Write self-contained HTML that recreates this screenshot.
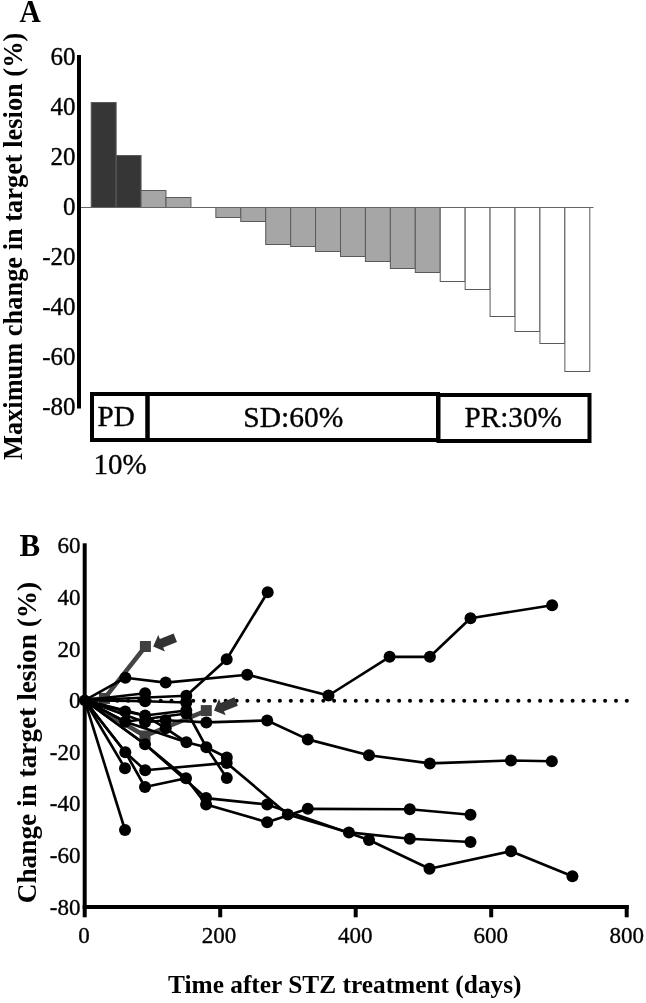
<!DOCTYPE html>
<html><head><meta charset="utf-8"><title>Tumor response</title>
<style>html,body{margin:0;padding:0;background:#fff;}svg{display:block;will-change:transform;} .r{stroke:#000;stroke-width:0.35px;}</style>
</head><body>
<svg width="646" height="1003" viewBox="0 0 646 1003" font-family='"Liberation Serif", serif'><rect x="91.20" y="102.5" width="24.93" height="105.0" fill="#363636" stroke="#5a5a5a" stroke-width="1"/>
<rect x="116.13" y="155.5" width="24.93" height="52.0" fill="#363636" stroke="#5a5a5a" stroke-width="1"/>
<rect x="141.06" y="190.5" width="24.93" height="17.0" fill="#a6a6a6" stroke="#5a5a5a" stroke-width="1"/>
<rect x="165.99" y="197.5" width="24.93" height="10.0" fill="#a6a6a6" stroke="#5a5a5a" stroke-width="1"/>
<rect x="215.85" y="207.5" width="24.93" height="10.0" fill="#a6a6a6" stroke="#5a5a5a" stroke-width="1"/>
<rect x="240.78" y="207.5" width="24.93" height="14.0" fill="#a6a6a6" stroke="#5a5a5a" stroke-width="1"/>
<rect x="265.71" y="207.5" width="24.93" height="37.0" fill="#a6a6a6" stroke="#5a5a5a" stroke-width="1"/>
<rect x="290.64" y="207.5" width="24.93" height="39.0" fill="#a6a6a6" stroke="#5a5a5a" stroke-width="1"/>
<rect x="315.57" y="207.5" width="24.93" height="44.0" fill="#a6a6a6" stroke="#5a5a5a" stroke-width="1"/>
<rect x="340.50" y="207.5" width="24.93" height="49.0" fill="#a6a6a6" stroke="#5a5a5a" stroke-width="1"/>
<rect x="365.43" y="207.5" width="24.93" height="54.0" fill="#a6a6a6" stroke="#5a5a5a" stroke-width="1"/>
<rect x="390.36" y="207.5" width="24.93" height="61.0" fill="#a6a6a6" stroke="#5a5a5a" stroke-width="1"/>
<rect x="415.29" y="207.5" width="24.93" height="65.0" fill="#a6a6a6" stroke="#5a5a5a" stroke-width="1"/>
<rect x="440.22" y="207.5" width="24.93" height="74.0" fill="#ffffff" stroke="#5a5a5a" stroke-width="1"/>
<rect x="465.15" y="207.5" width="24.93" height="82.0" fill="#ffffff" stroke="#5a5a5a" stroke-width="1"/>
<rect x="490.08" y="207.5" width="24.93" height="109.0" fill="#ffffff" stroke="#5a5a5a" stroke-width="1"/>
<rect x="515.01" y="207.5" width="24.93" height="124.0" fill="#ffffff" stroke="#5a5a5a" stroke-width="1"/>
<rect x="539.94" y="207.5" width="24.93" height="136.0" fill="#ffffff" stroke="#5a5a5a" stroke-width="1"/>
<rect x="564.87" y="207.5" width="24.93" height="164.0" fill="#ffffff" stroke="#5a5a5a" stroke-width="1"/>
<line x1="81" y1="207.5" x2="593.5" y2="207.5" stroke="#666" stroke-width="1"/>
<rect x="77" y="55" width="4" height="353.5" fill="#000"/>
<text class="r" x="75.5" y="65.0" text-anchor="end" font-size="25">60</text>
<text class="r" x="75.5" y="115.0" text-anchor="end" font-size="25">40</text>
<text class="r" x="75.5" y="165.0" text-anchor="end" font-size="25">20</text>
<text class="r" x="75.5" y="215.0" text-anchor="end" font-size="25">0</text>
<text class="r" x="75.5" y="265.0" text-anchor="end" font-size="25">-20</text>
<text class="r" x="75.5" y="315.0" text-anchor="end" font-size="25">-40</text>
<text class="r" x="75.5" y="365.0" text-anchor="end" font-size="25">-60</text>
<text class="r" x="75.5" y="415.0" text-anchor="end" font-size="25">-80</text>
<rect x="92" y="394" width="55.5" height="46" fill="none" stroke="#000" stroke-width="4"/>
<rect x="147.5" y="394" width="290.5" height="46" fill="none" stroke="#000" stroke-width="4"/>
<rect x="438.5" y="395" width="151" height="46" fill="none" stroke="#000" stroke-width="4"/>
<text class="r" x="97.5" y="425.9" font-size="29.2">PD</text>
<text class="r" x="243.3" y="426.8" font-size="29.5">SD:60%</text>
<text class="r" x="464.5" y="427" font-size="29.2">PR:30%</text>
<text class="r" x="93.5" y="474.1" font-size="29">10%</text>
<text x="19.6" y="22.3" font-size="32" font-weight="bold" textLength="21.3" lengthAdjust="spacingAndGlyphs">A</text>
<text transform="translate(22,460) rotate(-90)" x="0" y="0" font-size="26.4" font-weight="bold">Maximum change in target lesion (%)</text>
<rect x="82.7" y="543.3" width="4" height="374" fill="#000"/>
<rect x="82.7" y="905" width="546" height="4" fill="#000"/>
<rect x="218.2" y="905" width="4" height="12.3" fill="#000"/>
<rect x="353.7" y="905" width="4" height="12.3" fill="#000"/>
<rect x="489.2" y="905" width="4" height="12.3" fill="#000"/>
<rect x="624.7" y="905" width="4" height="12.3" fill="#000"/>
<text class="r" x="80.5" y="553.4" text-anchor="end" font-size="23">60</text>
<text class="r" x="80.5" y="605.0" text-anchor="end" font-size="23">40</text>
<text class="r" x="80.5" y="656.6" text-anchor="end" font-size="23">20</text>
<text class="r" x="80.5" y="708.2" text-anchor="end" font-size="23">0</text>
<text class="r" x="80.5" y="759.8" text-anchor="end" font-size="23">-20</text>
<text class="r" x="80.5" y="811.4" text-anchor="end" font-size="23">-40</text>
<text class="r" x="80.5" y="863.0" text-anchor="end" font-size="23">-60</text>
<text class="r" x="80.5" y="914.6" text-anchor="end" font-size="23">-80</text>
<text class="r" x="83.9" y="942.6" text-anchor="middle" font-size="23">0</text>
<text class="r" x="218.9" y="942.6" text-anchor="middle" font-size="23">200</text>
<text class="r" x="355.2" y="942.6" text-anchor="middle" font-size="23">400</text>
<text class="r" x="490.7" y="942.6" text-anchor="middle" font-size="23">600</text>
<text class="r" x="626.7" y="942.6" text-anchor="middle" font-size="23">800</text>
<text x="19.5" y="555.9" font-size="31" font-weight="bold">B</text>
<text transform="translate(36.3,903.3) rotate(-90)" font-size="27.3" font-weight="bold">Change in target lesion (%)</text>
<text x="168" y="992.9" font-size="25.37" font-weight="bold">Time after STZ treatment (days)</text>
<g fill="#000"><circle cx="84.8" cy="700.8" r="2"/><circle cx="95.6" cy="700.8" r="2"/><circle cx="106.5" cy="700.8" r="2"/><circle cx="117.3" cy="700.8" r="2"/><circle cx="128.2" cy="700.8" r="2"/><circle cx="139.0" cy="700.8" r="2"/><circle cx="149.8" cy="700.8" r="2"/><circle cx="160.7" cy="700.8" r="2"/><circle cx="171.5" cy="700.8" r="2"/><circle cx="182.4" cy="700.8" r="2"/><circle cx="193.2" cy="700.8" r="2"/><circle cx="204.0" cy="700.8" r="2"/><circle cx="214.9" cy="700.8" r="2"/><circle cx="225.7" cy="700.8" r="2"/><circle cx="236.6" cy="700.8" r="2"/><circle cx="247.4" cy="700.8" r="2"/><circle cx="258.2" cy="700.8" r="2"/><circle cx="269.1" cy="700.8" r="2"/><circle cx="279.9" cy="700.8" r="2"/><circle cx="290.8" cy="700.8" r="2"/><circle cx="301.6" cy="700.8" r="2"/><circle cx="312.4" cy="700.8" r="2"/><circle cx="323.3" cy="700.8" r="2"/><circle cx="334.1" cy="700.8" r="2"/><circle cx="345.0" cy="700.8" r="2"/><circle cx="355.8" cy="700.8" r="2"/><circle cx="366.6" cy="700.8" r="2"/><circle cx="377.5" cy="700.8" r="2"/><circle cx="388.3" cy="700.8" r="2"/><circle cx="399.2" cy="700.8" r="2"/><circle cx="410.0" cy="700.8" r="2"/><circle cx="420.8" cy="700.8" r="2"/><circle cx="431.7" cy="700.8" r="2"/><circle cx="442.5" cy="700.8" r="2"/><circle cx="453.4" cy="700.8" r="2"/><circle cx="464.2" cy="700.8" r="2"/><circle cx="475.0" cy="700.8" r="2"/><circle cx="485.9" cy="700.8" r="2"/><circle cx="496.7" cy="700.8" r="2"/><circle cx="507.6" cy="700.8" r="2"/><circle cx="518.4" cy="700.8" r="2"/><circle cx="529.2" cy="700.8" r="2"/><circle cx="540.1" cy="700.8" r="2"/><circle cx="550.9" cy="700.8" r="2"/><circle cx="561.8" cy="700.8" r="2"/><circle cx="572.6" cy="700.8" r="2"/><circle cx="583.4" cy="700.8" r="2"/><circle cx="594.3" cy="700.8" r="2"/><circle cx="605.1" cy="700.8" r="2"/><circle cx="616.0" cy="700.8" r="2"/><circle cx="626.8" cy="700.8" r="2"/></g>
<polyline points="84.7,700.3 104.5,698.4 145.4,646.5" fill="none" stroke="#444" stroke-width="4.5" stroke-linejoin="round"/>
<polyline points="84.7,700.3 145.0,736.0 206.3,710.6" fill="none" stroke="#444" stroke-width="4.5" stroke-linejoin="round"/>
<rect x="99.0" y="692.9" width="11" height="11" fill="#404040"/>
<rect x="139.9" y="641.0" width="11" height="11" fill="#404040"/>
<rect x="139.5" y="730.5" width="11" height="11" fill="#404040"/>
<rect x="200.8" y="705.1" width="11" height="11" fill="#404040"/>
<polyline points="84.7,700.3 125.4,677.7 165.7,682.6 247.2,674.7 328.5,695.5 389.6,656.8 429.9,656.8 470.5,618.2 552.1,605.2" fill="none" stroke="#000" stroke-width="2.65" stroke-linejoin="round"/>
<polyline points="84.7,700.3 186.3,695.8 226.7,659.2 267.7,592.2" fill="none" stroke="#000" stroke-width="2.65" stroke-linejoin="round"/>
<polyline points="84.7,700.3 145.1,693.2" fill="none" stroke="#000" stroke-width="2.65" stroke-linejoin="round"/>
<polyline points="84.7,700.3 145.1,722.3 165.7,720.2 206.3,722.4 267.2,720.5 307.8,739.4 369.0,755.2 429.8,763.4 511.0,760.5 551.8,761.3" fill="none" stroke="#000" stroke-width="2.65" stroke-linejoin="round"/>
<polyline points="84.7,700.3 145.1,701.2 186.3,702.5" fill="none" stroke="#000" stroke-width="2.65" stroke-linejoin="round"/>
<polyline points="84.7,700.3 125.2,711.4 145.1,715.5 186.3,710.5 206.3,747.2 226.8,778.1" fill="none" stroke="#000" stroke-width="2.65" stroke-linejoin="round"/>
<polyline points="84.7,700.3 125.2,721.7 186.4,742.2 206.3,747.2 226.8,757.5" fill="none" stroke="#000" stroke-width="2.65" stroke-linejoin="round"/>
<polyline points="84.7,700.3 125.2,721.7 186.3,713.5" fill="none" stroke="#000" stroke-width="2.65" stroke-linejoin="round"/>
<polyline points="84.7,700.3 145.1,715.5 165.7,728.3 186.4,742.2" fill="none" stroke="#000" stroke-width="2.65" stroke-linejoin="round"/>
<polyline points="84.7,700.3 125.3,752.2 145.2,770.3 226.7,762.9 287.8,814.4 348.9,832.4 409.8,838.7 470.5,842.0" fill="none" stroke="#000" stroke-width="2.65" stroke-linejoin="round"/>
<polyline points="84.7,700.3 125.3,752.2 145.0,787.0 186.0,778.3" fill="none" stroke="#000" stroke-width="2.65" stroke-linejoin="round"/>
<polyline points="84.7,700.3 125.0,768.2" fill="none" stroke="#000" stroke-width="2.65" stroke-linejoin="round"/>
<polyline points="84.7,700.3 125.0,830.0" fill="none" stroke="#000" stroke-width="2.65" stroke-linejoin="round"/>
<polyline points="84.7,700.3 145.0,744.2 206.1,798.1 267.2,804.5 369.0,840.0 429.5,868.7 511.0,851.2 572.4,876.3" fill="none" stroke="#000" stroke-width="2.65" stroke-linejoin="round"/>
<polyline points="84.7,700.3 145.0,744.2 186.0,778.3 206.1,804.5 267.2,822.2 307.8,808.8 409.8,809.2 470.5,814.8" fill="none" stroke="#000" stroke-width="2.65" stroke-linejoin="round"/>
<g fill="#000"><circle cx="125.0" cy="768.2" r="6.0"/><circle cx="125.0" cy="830.0" r="6.0"/><circle cx="125.2" cy="711.4" r="6.0"/><circle cx="125.2" cy="721.7" r="6.0"/><circle cx="125.3" cy="752.2" r="6.0"/><circle cx="125.4" cy="677.7" r="6.0"/><circle cx="145.0" cy="744.2" r="6.0"/><circle cx="145.0" cy="787.0" r="6.0"/><circle cx="145.1" cy="693.2" r="6.0"/><circle cx="145.1" cy="701.2" r="6.0"/><circle cx="145.1" cy="715.5" r="6.0"/><circle cx="145.1" cy="722.3" r="6.0"/><circle cx="145.2" cy="770.3" r="6.0"/><circle cx="165.7" cy="682.6" r="6.0"/><circle cx="165.7" cy="720.2" r="6.0"/><circle cx="165.7" cy="728.3" r="6.0"/><circle cx="186.0" cy="778.3" r="6.0"/><circle cx="186.3" cy="695.8" r="6.0"/><circle cx="186.3" cy="702.5" r="6.0"/><circle cx="186.3" cy="710.5" r="6.0"/><circle cx="186.3" cy="713.5" r="6.0"/><circle cx="186.4" cy="742.2" r="6.0"/><circle cx="206.1" cy="798.1" r="6.0"/><circle cx="206.1" cy="804.5" r="6.0"/><circle cx="206.3" cy="722.4" r="6.0"/><circle cx="206.3" cy="747.2" r="6.0"/><circle cx="226.7" cy="659.2" r="6.0"/><circle cx="226.7" cy="762.9" r="6.0"/><circle cx="226.8" cy="757.5" r="6.0"/><circle cx="226.8" cy="778.1" r="6.0"/><circle cx="247.2" cy="674.7" r="6.0"/><circle cx="267.2" cy="720.5" r="6.0"/><circle cx="267.2" cy="804.5" r="6.0"/><circle cx="267.2" cy="822.2" r="6.0"/><circle cx="267.7" cy="592.2" r="6.0"/><circle cx="287.8" cy="814.4" r="6.0"/><circle cx="307.8" cy="739.4" r="6.0"/><circle cx="307.8" cy="808.8" r="6.0"/><circle cx="328.5" cy="695.5" r="6.0"/><circle cx="348.9" cy="832.4" r="6.0"/><circle cx="369.0" cy="755.2" r="6.0"/><circle cx="369.0" cy="840.0" r="6.0"/><circle cx="389.6" cy="656.8" r="6.0"/><circle cx="409.8" cy="809.2" r="6.0"/><circle cx="409.8" cy="838.7" r="6.0"/><circle cx="429.5" cy="868.7" r="6.0"/><circle cx="429.8" cy="763.4" r="6.0"/><circle cx="429.9" cy="656.8" r="6.0"/><circle cx="470.5" cy="618.2" r="6.0"/><circle cx="470.5" cy="814.8" r="6.0"/><circle cx="470.5" cy="842.0" r="6.0"/><circle cx="511.0" cy="760.5" r="6.0"/><circle cx="511.0" cy="851.2" r="6.0"/><circle cx="551.8" cy="761.3" r="6.0"/><circle cx="552.1" cy="605.2" r="6.0"/><circle cx="572.4" cy="876.3" r="6.0"/></g>
<circle cx="84.7" cy="700.3" r="5.8" fill="#000"/>
<polygon points="153.2,646.6 164.9,651.5 163.2,647.4 177.0,641.9 173.6,633.5 159.9,639.1 158.2,635.0" fill="#333"/>
<polygon points="214.0,710.4 225.7,715.3 224.0,711.2 237.8,705.7 234.4,697.3 220.7,702.9 219.0,698.8" fill="#333"/></svg>
</body></html>
